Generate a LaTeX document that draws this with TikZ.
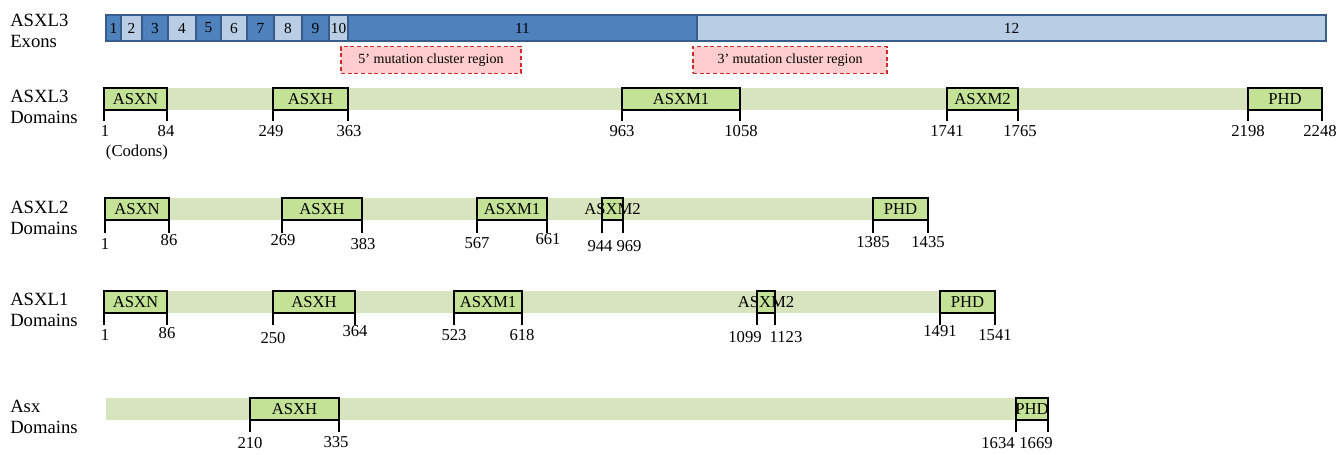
\documentclass[tikz,border=0pt]{standalone}
\usepackage{fontspec}
\setmainfont{Liberation Serif}
\usetikzlibrary{positioning}
\definecolor{exdark}{RGB}{79,129,189}
\definecolor{exlight}{RGB}{185,205,229}
\definecolor{exline}{RGB}{56,93,138}
\definecolor{clusterfill}{RGB}{255,205,205}
\definecolor{clusterline}{RGB}{215,40,40}
\definecolor{barfill}{RGB}{215,228,189}
\definecolor{domfill}{RGB}{195,226,150}

\begin{document}
\begin{tikzpicture}[
    x=0.75pt, y=-0.75pt,
    every node/.style={font=\fontsize{12.5}{16}\selectfont, inner sep=0pt},
    rowlab/.style={anchor=west, align=left, font=\fontsize{14}{16}\selectfont},
    exon/.style={draw=exline, line width=0.8pt},
    exnum/.style={font=\fontsize{11.5}{13}\selectfont},
    cluster/.style={draw=clusterline, fill=clusterfill, line width=0.9pt, dash pattern=on 3pt off 2pt, font=\fontsize{10.5}{12}\selectfont},
    backbar/.style={fill=barfill},
    dombox/.style={draw=black, fill=domfill, line width=1pt},
    tick/.style={draw=black, line width=1pt}
  ]
  \useasboundingbox (0,0) rectangle (1338,454);

  % row labels
  \node[rowlab] (lab-ex) at (10,31) {ASXL3\\Exons};
  \node[rowlab] (lab-l3) at (10,107) {ASXL3\\Domains};
  \node[rowlab] (lab-l2) at (10,218) {ASXL2\\Domains};
  \node[rowlab] (lab-l1) at (10,310) {ASXL1\\Domains};
  \node[rowlab] (lab-asx) at (10,417) {Asx\\Domains};

  % ASXL3 exons
  \foreach \a/\b/\n/\c in {
    106/121/1/exdark, 121/142/2/exlight, 142/168/3/exdark, 168/196/4/exlight,
    196/221/5/exdark, 221/247/6/exlight, 247/274/7/exdark, 274/302/8/exlight,
    302/329/9/exdark, 329/348/10/exlight, 348/697/11/exdark, 697/1326/12/exlight}{
    \draw[exon, fill=\c] (\a,15) rectangle (\b,41);
    \node[exnum] (ex\n) at ({(\a+\b)/2},28) {\n};
  }
  \node[cluster, minimum width=135pt, minimum height=20pt] (clus5) at (431,60) {5' mutation cluster region};
  \node[cluster, minimum width=145.5pt, minimum height=20pt] (clus3) at (790,60) {3' mutation cluster region};

  % ASXL3 domains
  \fill[backbar] (104,88) rectangle (1322,110);
  \foreach \a/\b/\nm [count=\i] in {104/167/ASXN, 273/348/ASXH, 622/740/ASXM1, 947/1018/ASXM2, 1248/1322/PHD}{
    \draw[dombox] (\a,88) rectangle (\b,110);
    \draw[tick] (\a,110) -- (\a,121) (\b,110) -- (\b,121);
    \node (d3-\i) at ({(\a+\b)/2},99) {\nm};
  }
  \foreach \x/\y/\t [count=\i] in {105/131/1, 166/131/84, 271/131/249, 349/131/363, 622/131/963,
    741/131/1058, 947/131/1741, 1020/131/1765, 1248/131/2198, 1320/131/2248}{
    \node (n3-\i) at (\x,\y) {\t};
  }
  \node (codons) at (137,152) {(Codons)};

  % ASXL2 domains
  \fill[backbar] (105,198) rectangle (928,220);
  \foreach \a/\b/\nm [count=\i] in {105/169/ASXN, 282/362/ASXH, 477/547/ASXM1, 602/623/ASXM2, 873/928/PHD}{
    \draw[dombox] (\a,198) rectangle (\b,220);
    \draw[tick] (\a,220) -- (\a,233) (\b,220) -- (\b,233);
    \node (d2-\i) at ({(\a+\b)/2},209) {\nm};
  }
  \foreach \x/\y/\t [count=\i] in {105/244/1, 169/240/86, 283/240/269, 363/244/383, 477/243/567,
    548/239/661, 600/246/944, 629/246/969, 873/242/1385, 928/242/1435}{
    \node (n2-\i) at (\x,\y) {\t};
  }

  % ASXL1 domains
  \fill[backbar] (104,291) rectangle (995,313);
  \foreach \a/\b/\nm [count=\i] in {104/167/ASXN, 273/355/ASXH, 454/522/ASXM1, 757/775/ASXM2, 940/995/PHD}{
    \draw[dombox] (\a,291) rectangle (\b,313);
    \draw[tick] (\a,313) -- (\a,325) (\b,313) -- (\b,325);
    \node (d1-\i) at ({(\a+\b)/2},302) {\nm};
  }
  \foreach \x/\y/\t [count=\i] in {105/335/1, 167/333/86, 273/338/250, 355/331/364, 454/335/523,
    522/335/618, 745/337/1099, 786/337/1123, 940/331/1491, 995/335/1541}{
    \node (n1-\i) at (\x,\y) {\t};
  }

  % Asx domains
  \fill[backbar] (106,398) rectangle (1016,420);
  \foreach \a/\b/\nm [count=\i] in {250/339/ASXH, 1016/1048/PHD}{
    \draw[dombox] (\a,398) rectangle (\b,420);
    \draw[tick] (\a,420) -- (\a,432) (\b,420) -- (\b,432);
    \node (dx-\i) at ({(\a+\b)/2},409) {\nm};
  }
  \foreach \x/\y/\t [count=\i] in {250/443/210, 336/442/335, 998/443/1634, 1036/443/1669}{
    \node (nx-\i) at (\x,\y) {\t};
  }
\end{tikzpicture}
\end{document}
